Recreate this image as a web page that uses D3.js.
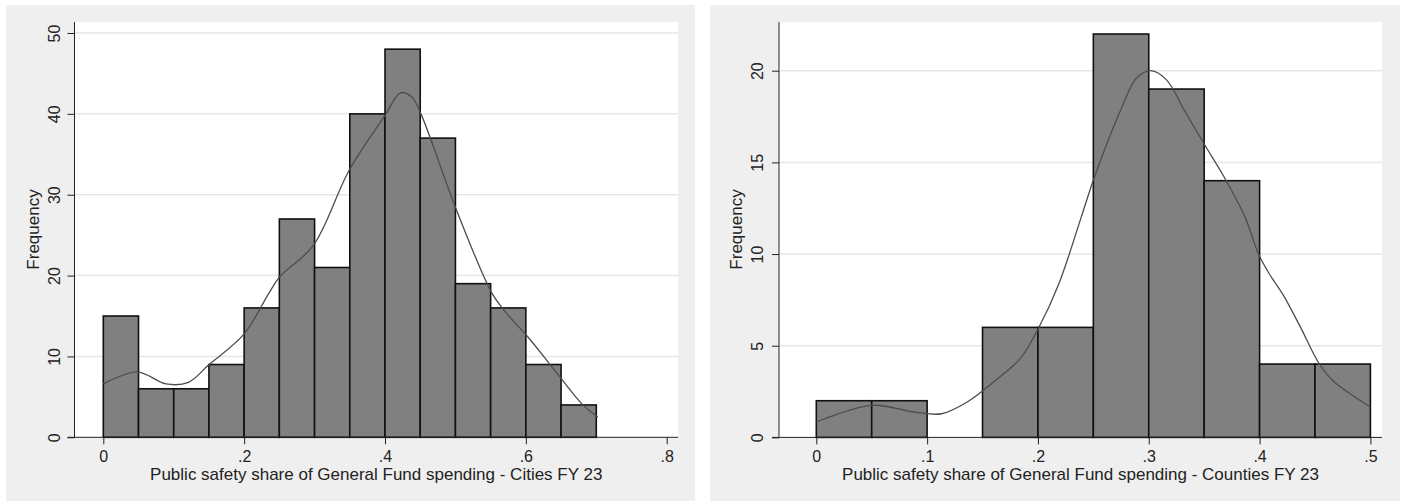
<!DOCTYPE html>
<html>
<head>
<meta charset="utf-8">
<script src="https://cdn.jsdelivr.net/npm/d3@7"></script>
<style>
  body { margin: 0; background: #fff; }
  text { font-family: "Liberation Sans", Arial, sans-serif; fill: #222; }
</style>
</head>
<body>
<div id="chart"></div>
<script>
// bins are 0.05 wide, start at left edge
var citiesBinStart = [0, 0.05, 0.1, 0.15, 0.2, 0.25, 0.3, 0.35, 0.4, 0.45, 0.5, 0.55, 0.6, 0.65];
var citiesFreq = [15, 6, 6, 9, 16, 27, 21, 40, 48, 37, 19, 16, 9, 4];
var citiesKdeX = [0, 0.048, 0.089, 0.121, 0.149, 0.2, 0.235, 0.25, 0.298, 0.349, 0.4, 0.422, 0.438, 0.451, 0.502, 0.552, 0.571, 0.603, 0.648, 0.679, 0.702];
var citiesKdeY = [6.6, 8.1, 6.6, 6.8, 8.9, 12.8, 17.8, 19.8, 23.7, 33.0, 39.8, 42.6, 42.1, 40.0, 28.0, 17.8, 15.5, 12.4, 7.5, 4.2, 2.5];
var citiesXTicks = [0, 0.2, 0.4, 0.6, 0.8];
var citiesYTicks = [0, 10, 20, 30, 40, 50];

var countiesBinStart = [0, 0.05, 0.1, 0.15, 0.2, 0.25, 0.3, 0.35, 0.4, 0.45];
var countiesFreq = [2, 2, 0, 6, 6, 22, 19, 14, 4, 4];
var countiesKdeX = [0, 0.05, 0.089, 0.113, 0.138, 0.158, 0.184, 0.2, 0.219, 0.239, 0.251, 0.275, 0.289, 0.302, 0.316, 0.332, 0.35, 0.368, 0.387, 0.399, 0.409, 0.421, 0.437, 0.453, 0.466, 0.486, 0.5];
var countiesKdeY = [0.84, 1.75, 1.38, 1.29, 2.0, 2.93, 4.3, 5.9, 8.4, 12.0, 14.2, 17.9, 19.6, 20.0, 19.5, 17.85, 16.0, 14.2, 12.0, 10.0, 8.9, 7.8, 6.0, 4.1, 3.1, 2.2, 1.66];
var countiesXTicks = [0, 0.1, 0.2, 0.3, 0.4, 0.5];
var countiesYTicks = [0, 5, 10, 15, 20];

var binWidth = 0.05;

var svg = d3.select('#chart').append('svg')
    .attr('width', 1403)
    .attr('height', 501);

var tickFmt = function(d){
    return d === 0 ? '0' : String(d).replace(/^0/, '');
};

var drawPanel = function(p){
    var g = svg.append('g');

    // outer gray panel
    g.append('rect')
        .attr('x', p.panel[0]).attr('y', 5)
        .attr('width', p.panel[1] - p.panel[0]).attr('height', 496)
        .attr('fill', '#efefef');

    // white plot region
    g.append('rect')
        .attr('x', p.plot[0]).attr('y', 22)
        .attr('width', p.plot[1] - p.plot[0]).attr('height', 437.3 - 22)
        .attr('fill', '#fff');

    var x = d3.scaleLinear().domain(p.xDomain).range(p.xRange);
    var y = d3.scaleLinear().domain(p.yDomain).range(p.yRange);

    // grid lines
    g.selectAll('.grid')
        .data(p.yTicks.filter(function(d){ return d > 0; }))
        .enter()
        .append('line')
        .attr('x1', p.plot[0]).attr('x2', p.plot[1])
        .attr('y1', function(d){ return y(d); })
        .attr('y2', function(d){ return y(d); })
        .attr('stroke', '#e6e6e6')
        .attr('stroke-width', 1.5);

    // bars
    var bars = p.bins.map(function(b, i){ return {x0: b, v: p.freq[i]}; })
        .filter(function(d){ return d.v > 0; });
    g.selectAll('.bar')
        .data(bars)
        .enter()
        .append('rect')
        .attr('x', function(d){ return x(d.x0); })
        .attr('y', function(d){ return y(d.v); })
        .attr('width', function(d){ return x(d.x0 + binWidth) - x(d.x0); })
        .attr('height', function(d){ return y(0) - y(d.v); })
        .attr('fill', '#808080')
        .attr('stroke', '#111')
        .attr('stroke-width', 1.6);

    // density curve
    var line = d3.line()
        .x(function(d){ return x(d[0]); })
        .y(function(d){ return y(d[1]); })
        .curve(d3.curveCatmullRom);
    g.append('path')
        .datum(d3.zip(p.kdeX, p.kdeY))
        .attr('d', line)
        .attr('fill', 'none')
        .attr('stroke', '#4d4d4d')
        .attr('stroke-width', 1.3);

    // y axis
    var yAxis = d3.axisLeft(y).tickValues(p.yTicks).tickSize(7).tickFormat(tickFmt);
    var ya = g.append('g')
        .attr('transform', 'translate(' + p.plot[0] + ',0)')
        .call(yAxis);
    ya.select('.domain')
        .attr('d', 'M0,22V' + y(0))
        .attr('stroke', '#222');
    ya.selectAll('.tick line').attr('stroke', '#222');
    ya.selectAll('.tick text')
        .attr('x', 0).attr('dy', 0)
        .attr('transform', 'translate(' + (p.yLabelX - p.plot[0]) + ',0) rotate(-90)')
        .attr('text-anchor', 'middle')
        .style('font-size', '16px')
        .style('font-family', '"Liberation Sans", Arial, sans-serif')
        .attr('fill', '#222');

    // x axis
    var xAxis = d3.axisBottom(x).tickValues(p.xTicks).tickSize(7).tickFormat(tickFmt);
    var xa = g.append('g')
        .attr('transform', 'translate(0,' + y(0) + ')')
        .call(xAxis);
    xa.select('.domain')
        .attr('d', 'M' + (p.plot[0] - 7) + ',0H' + p.plot[1])
        .attr('stroke', '#222');
    xa.selectAll('.tick line').attr('stroke', '#222');
    xa.selectAll('.tick text')
        .attr('y', 24.5).attr('dy', 0)
        .style('font-size', '16px')
        .style('font-family', '"Liberation Sans", Arial, sans-serif')
        .attr('fill', '#222');

    // titles
    g.append('text')
        .attr('x', (p.plot[0] + p.plot[1]) / 2)
        .attr('y', 480)
        .attr('text-anchor', 'middle')
        .style('font-size', '17px')
        .text(p.xTitle);

    g.append('text')
        .attr('transform', 'translate(' + p.yTitleX + ',229.5) rotate(-90)')
        .attr('text-anchor', 'middle')
        .style('font-size', '17px')
        .text('Frequency');
};

drawPanel({
    panel: [6, 695],
    plot: [74.5, 678],
    xDomain: [0, 0.8], xRange: [103.3, 666.7],
    yDomain: [0, 50], yRange: [437.3, 33],
    bins: citiesBinStart, freq: citiesFreq,
    kdeX: citiesKdeX, kdeY: citiesKdeY,
    xTicks: citiesXTicks, yTicks: citiesYTicks,
    yLabelX: 60, yTitleX: 39,
    xTitle: 'Public safety share of General Fund spending - Cities FY 23'
});

drawPanel({
    panel: [710, 1400],
    plot: [779, 1382],
    xDomain: [0, 0.5], xRange: [816.3, 1370.4],
    yDomain: [0, 20], yRange: [437.4, 70.7],
    bins: countiesBinStart, freq: countiesFreq,
    kdeX: countiesKdeX, kdeY: countiesKdeY,
    xTicks: countiesXTicks, yTicks: countiesYTicks,
    yLabelX: 762.5, yTitleX: 742,
    xTitle: 'Public safety share of General Fund spending - Counties FY 23'
});
</script>
</body>
</html>
